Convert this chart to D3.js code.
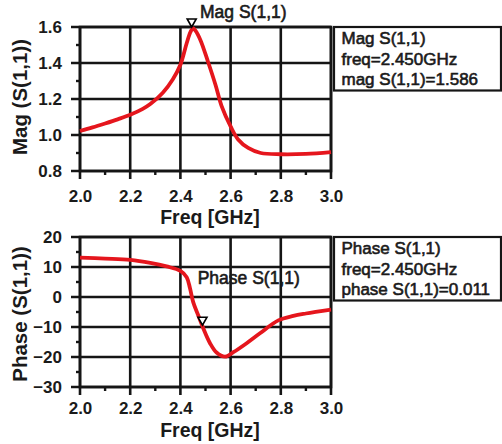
<!DOCTYPE html>
<html>
<head>
<meta charset="utf-8">
<script src="https://cdn.jsdelivr.net/npm/d3@7"></script>
<style>
  body { margin: 0; background: #fff; }
  svg { display: block; font-family: "Liberation Sans", Arial, sans-serif; }
</style>
</head>
<body>
<div id="chart"></div>
<script>
// values
var magFreq   = [2.00, 2.05, 2.10, 2.15, 2.20, 2.25, 2.28, 2.33, 2.37, 2.40, 2.425, 2.44, 2.45, 2.46, 2.48, 2.51, 2.54, 2.565, 2.60, 2.63, 2.67, 2.72, 2.80, 2.90, 3.00];
var magValues = [1.022, 1.042, 1.064, 1.087, 1.112, 1.145, 1.172, 1.235, 1.31, 1.39, 1.51, 1.572, 1.594, 1.58, 1.527, 1.407, 1.278, 1.158, 1.048, 0.975, 0.928, 0.90, 0.893, 0.895, 0.905];

var phaseFreq   = [2.00, 2.10, 2.20, 2.28, 2.345, 2.40, 2.425, 2.438, 2.451, 2.471, 2.491, 2.518, 2.544, 2.578, 2.611, 2.664, 2.717, 2.79, 2.85, 2.90, 3.00];
var phaseValues = [13.1, 12.8, 12.4, 11.4, 10.2, 8.7, 6.6, 3.0, -1.7, -6.1, -10.4, -15.4, -18.5, -19.9, -18.4, -15.4, -12.1, -7.8, -6.3, -5.5, -4.2];

var freqTicks  = [2.0, 2.2, 2.4, 2.6, 2.8, 3.0];
var freqMinor  = [2.1, 2.3, 2.5, 2.7, 2.9];
var magTicks   = [0.8, 1.0, 1.2, 1.4, 1.6];
var magMinor   = [0.9, 1.1, 1.3, 1.5];
var phaseTicks = [-30, -20, -10, 0, 10, 20];
var phaseMinor = [-25, -15, -5, 5, 15];

// marker positions (freq, value at triangle tip)
var magMarker   = [2.445, 1.60];
var phaseMarker = [2.488, -9.4];

var magLegend   = ["Mag S(1,1)", "freq=2.450GHz", "mag S(1,1)=1.586"];
var phaseLegend = ["Phase S(1,1)", "freq=2.450GHz", "phase S(1,1)=0.011"];

var width = 502, height = 444;
var red = "#e5161d";
var ink = "#151515";
var textInk = "#1a1a1a";

var svg = d3.select("#chart").append("svg")
    .attr("width", width)
    .attr("height", height);

var xScale = d3.scaleLinear().domain([2.0, 3.0]).range([80, 331]);

var panels = [
    {freq: magFreq, values: magValues, ticks: magTicks, minor: magMinor, domain: [0.8, 1.6],
     range: [171, 27], fmt: d3.format(".1f"), title: "Mag (S(1,1))", titleY: 97,
     xLabelPad: 11, xTitleY: 224, marker: magMarker, markerLabel: "Mag S(1,1)",
     labelPos: [200, 17.7], legend: magLegend, boxY: 27},
    {freq: phaseFreq, values: phaseValues, ticks: phaseTicks, minor: phaseMinor, domain: [-30, 20],
     range: [387, 237], fmt: d3.format("d"), title: "Phase (S(1,1))", titleY: 314,
     xLabelPad: 6.5, xTitleY: 437, marker: phaseMarker, markerLabel: "Phase S(1,1)",
     labelPos: [197.7, 284.3], legend: phaseLegend, boxY: 237}
];

panels.forEach(function(p){
    var yScale = d3.scaleLinear().domain(p.domain).range(p.range);
    var x0 = xScale.range()[0], x1 = xScale.range()[1];
    var yb = p.range[0], yt = p.range[1];
    var g = svg.append("g");

    // grid lines
    g.selectAll(".vgrid").data(freqTicks).enter().append("line")
        .attr("x1", function(d){ return xScale(d); })
        .attr("x2", function(d){ return xScale(d); })
        .attr("y1", yb + 8).attr("y2", yt)
        .attr("stroke", ink).attr("stroke-width", 2.6);
    g.selectAll(".hgrid").data(p.ticks).enter().append("line")
        .attr("x1", x0 - 9).attr("x2", x1)
        .attr("y1", function(d){ return yScale(d); })
        .attr("y2", function(d){ return yScale(d); })
        .attr("stroke", ink).attr("stroke-width", 2.6);

    // minor ticks
    g.selectAll(".ymin").data(p.minor).enter().append("line")
        .attr("x1", x0 - 4).attr("x2", x0)
        .attr("y1", function(d){ return yScale(d); })
        .attr("y2", function(d){ return yScale(d); })
        .attr("stroke", ink).attr("stroke-width", 2.4);
    g.selectAll(".xmin").data(freqMinor).enter().append("line")
        .attr("x1", function(d){ return xScale(d); })
        .attr("x2", function(d){ return xScale(d); })
        .attr("y1", yb).attr("y2", yb + 4)
        .attr("stroke", ink).attr("stroke-width", 2.4);

    // tick labels
    var yAx = g.append("g")
        .attr("transform", "translate(" + x0 + ",0)")
        .call(d3.axisLeft(yScale).tickValues(p.ticks).tickSize(9).tickPadding(9).tickFormat(p.fmt));
    var xAx = g.append("g")
        .attr("transform", "translate(0," + yb + ")")
        .call(d3.axisBottom(xScale).tickValues(freqTicks).tickSize(8).tickPadding(p.xLabelPad).tickFormat(d3.format(".1f")));
    [yAx, xAx].forEach(function(a){
        a.select(".domain").remove();
        a.selectAll("line").remove();
        a.selectAll("text")
            .attr("fill", textInk)
            .style("font-size", "17px")
            .style("font-weight", "bold");
    });

    // frame
    g.append("rect")
        .attr("x", x0).attr("y", yt)
        .attr("width", x1 - x0).attr("height", yb - yt)
        .attr("fill", "none").attr("stroke", ink).attr("stroke-width", 2.6);

    // curve
    var line = d3.line()
        .x(function(d, i){ return xScale(p.freq[i]); })
        .y(function(d){ return yScale(d); })
        .curve(d3.curveCatmullRom.alpha(0.5));
    g.append("path")
        .datum(p.values)
        .attr("d", line)
        .attr("fill", "none")
        .attr("stroke", red)
        .attr("stroke-width", 3.8)
        .attr("stroke-linejoin", "round");

    // marker
    g.append("path")
        .attr("d", "M-4.5,-8L4.5,-8L0,0Z")
        .attr("transform", "translate(" + xScale(p.marker[0]) + "," + yScale(p.marker[1]) + ")")
        .attr("fill", "#fff")
        .attr("stroke", "#000")
        .attr("stroke-width", 1.6);
    g.append("text")
        .attr("x", p.labelPos[0]).attr("y", p.labelPos[1])
        .attr("fill", textInk).attr("stroke", textInk).attr("stroke-width", 0.6)
        .style("font-size", "17.5px")
        .text(p.markerLabel);

    // axis titles
    g.append("text")
        .attr("x", 210).attr("y", p.xTitleY)
        .attr("text-anchor", "middle")
        .attr("fill", textInk)
        .style("font-size", "19.5px").style("font-weight", "bold")
        .text("Freq [GHz]");
    g.append("text")
        .attr("transform", "translate(27," + p.titleY + ") rotate(-90)")
        .attr("text-anchor", "middle")
        .attr("fill", textInk)
        .style("font-size", "20.5px").style("font-weight", "bold")
        .text(p.title);

    // readout box
    g.append("rect")
        .attr("x", 334).attr("y", p.boxY)
        .attr("width", 167).attr("height", 63.5)
        .attr("fill", "#fff").attr("stroke", ink).attr("stroke-width", 2.2);
    g.selectAll(".leg").data(p.legend).enter().append("text")
        .attr("x", 341.5)
        .attr("y", function(d, i){ return p.boxY + 16.8 + i * 20.8; })
        .attr("fill", textInk).attr("stroke", textInk).attr("stroke-width", 0.6)
        .style("font-size", "17px")
        .text(function(d){ return d; });
});
</script>
</body>
</html>
